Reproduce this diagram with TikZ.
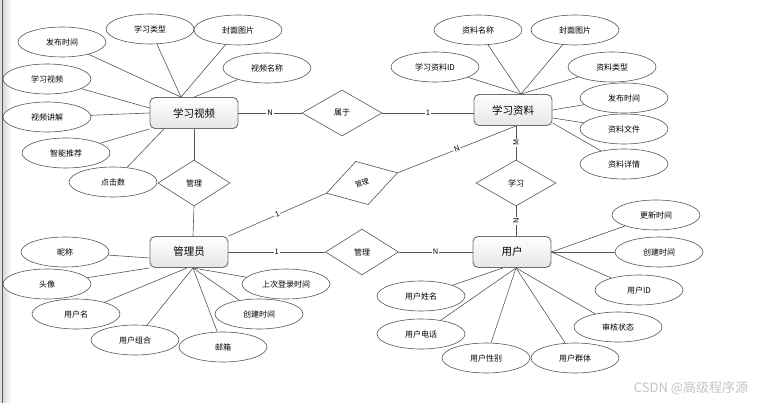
\documentclass[tikz,border=0pt]{standalone}
\usepackage{fontspec}
\usepackage{xcolor}
\usetikzlibrary{shapes.geometric, positioning}
\setmainfont{Noto Sans CJK SC}
\definecolor{erLine}{RGB}{85, 85, 85}
\definecolor{erBorder}{RGB}{110, 110, 110}
\definecolor{erShade}{RGB}{230, 230, 230}
\definecolor{erMark}{RGB}{195, 195, 195}

\begin{document}
\begin{tikzpicture}[x=1pt, y=-1pt,
    entity/.style={draw=erBorder, line width=0.9pt, rounded corners=5pt, top color=white, bottom color=erShade, minimum width=78pt, minimum height=31pt, inner sep=0pt, font=\fontsize{10.5}{12}\selectfont},
    attr/.style={draw=erLine, ellipse, line width=0.6pt, fill=white, minimum width=88pt, minimum height=30pt, inner sep=0pt, font=\fontsize{8}{9}\selectfont},
    rel/.style={draw=erLine, diamond, line width=0.6pt, fill=white, minimum width=80pt, minimum height=46pt, inner sep=0pt, font=\fontsize{8}{9}\selectfont},
    link/.style={draw=erLine, line width=0.6pt},
    card/.style={fill=white, inner sep=1pt, font=\fontsize{7.5}{8}\selectfont}]
    \useasboundingbox (0,0) rectangle (762,403);
    \fill[gray!25] (0,0) rectangle (2,403);
    \draw[gray!70!black, line width=0.8pt] (2.5,0) -- (2.5,403);
    \shade[left color=gray!30, right color=white] (3,0) rectangle (11,403);

    \node[entity, minimum width=88pt] (xs) at (194,113) {学习视频};
    \node[entity] (zl) at (513,110) {学习资料};
    \node[entity] (gly) at (189,252) {管理员};
    \node[entity] (yh) at (512,252) {用户};

    \node[rel] (sy) at (342,113) {属于};
    \node[rel, minimum width=72pt] (gl1) at (194,183) {管理};
    \node[rel] (xx) at (516,183) {学习};
    \node[rel, minimum width=74pt, minimum height=45pt, rotate=16, font=\fontsize{7}{8}\selectfont] (gl2) at (362,183) {管理};
    \node[rel, minimum width=73pt] (gl3) at (362,252) {管理};

    \node[attr] (a1) at (62,42) {发布时间};
    \node[attr] (a2) at (150,29) {学习类型};
    \node[attr] (a3) at (238,30) {封面图片};
    \node[attr] (a4) at (267,68) {视频名称};
    \node[attr] (a5) at (47,79) {学习视频};
    \node[attr] (a6) at (47,117) {视频讲解};
    \node[attr] (a7) at (66,153) {智能推荐};
    \node[attr] (a8) at (113,182) {点击数};

    \node[attr] (b1) at (478,30) {资料名称};
    \node[attr] (b2) at (575,30) {封面图片};
    \node[attr] (b3) at (435,67) {学习资料ID};
    \node[attr] (b4) at (612,67) {资料类型};
    \node[attr] (b5) at (624,98) {发布时间};
    \node[attr] (b6) at (624,129) {资料文件};
    \node[attr] (b7) at (624,164) {资料详情};

    \node[attr] (c1) at (65,252) {昵称};
    \node[attr] (c2) at (47,284) {头像};
    \node[attr] (c3) at (76,314) {用户名};
    \node[attr] (c4) at (135,340) {用户组合};
    \node[attr] (c5) at (223,347) {邮箱};
    \node[attr] (c6) at (259,314) {创建时间};
    \node[attr] (c7) at (286,284) {上次登录时间};

    \node[attr] (d1) at (656,215) {更新时间};
    \node[attr] (d2) at (659,252) {创建时间};
    \node[attr] (d3) at (639,290) {用户ID};
    \node[attr] (d4) at (618,327) {审核状态};
    \node[attr] (d5) at (575,358) {用户群体};
    \node[attr] (d6) at (486,358) {用户性别};
    \node[attr] (d7) at (421,334) {用户电话};
    \node[attr] (d8) at (421,296) {用户姓名};

    \coordinate (xst) at ([xshift=-13pt]xs.north);
    \coordinate (zlt) at ([xshift=8pt]zl.north);
    \coordinate (zlb) at ([xshift=3pt]zl.south);
    \coordinate (glyb) at ([xshift=4pt]gly.south);
    \coordinate (yhb) at ([xshift=4pt]yh.south);

    \draw[link] (a1) -- (xst);
    \draw[link] (a2) -- (xst);
    \draw[link] (a3) -- (xst);
    \draw[link] (a4) -- (xs.north);
    \draw[link] (a5) -- ([yshift=5pt]xs.west);
    \draw[link] (a6) -- (xs.west);
    \draw[link] (a7) -- (xs.south west);
    \draw[link] (a8) -- ([xshift=-30pt]xs.south);

    \draw[link] (b1) -- (zlt);
    \draw[link] (b2) -- (zlt);
    \draw[link] (b3) -- (zlt);
    \draw[link] (b4) -- (zlt);
    \draw[link] (b5) -- (zl.east);
    \draw[link] (b6) -- ([yshift=-8pt]zl.east);
    \draw[link] (b7) -- ([yshift=-13pt]zl.east);

    \draw[link] (c1) -- ([yshift=-6pt]gly.west);
    \draw[link] (c2) -- (gly.south west);
    \draw[link] (c3) -- ([xshift=-2pt]gly.south);
    \draw[link] (c4) -- (glyb);
    \draw[link] (c5) -- (glyb);
    \draw[link] (c6) -- (glyb);
    \draw[link] (c7) -- (glyb);

    \draw[link] (d1) -- (yh.east);
    \draw[link] (d2) -- (yh.east);
    \draw[link] (d3) -- (yh.east);
    \draw[link] (d4) -- (yhb);
    \draw[link] (d5) -- (yhb);
    \draw[link] (d6) -- (yhb);
    \draw[link] (d7) -- (yhb);
    \draw[link] (d8) -- ([xshift=-9pt]yh.south);

    \draw[link] (xs.east) -- node[card] {N} (sy.west);
    \draw[link] (sy.east) -- node[card] {1} ([yshift=-3pt]zl.west);
    \draw[link] (zlb) -- node[card, rotate=90] {M} (xx.north);
    \draw[link] (xx.south) -- node[card, rotate=90] {N} ([xshift=4pt]yh.north);
    \draw[link] (xs.south) -- (gl1.north);
    \draw[link] (gl1.south) -- ([xshift=4pt]gly.north);
    \draw[link] (gly.north east) -- node[card, sloped] {1} (gl2.west);
    \draw[link] (gl2.east) -- node[card, sloped] {N} (zlb);
    \draw[link] (gly.east) -- node[card] {1} (gl3.west);
    \draw[link] (gl3.east) -- node[card] {N} (yh.west);

    \node[text=erMark, font=\fontsize{13}{15}\selectfont] (wm) at (691,388) {CSDN @高级程序源};
\end{tikzpicture}
\end{document}
